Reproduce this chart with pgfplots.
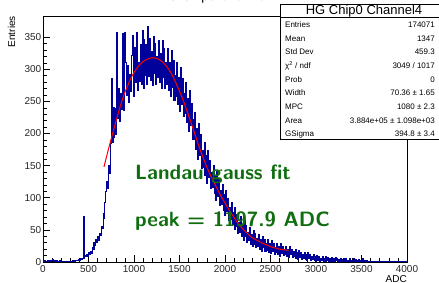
\documentclass[border=0pt]{standalone}
\usepackage{pgfplots}
\pgfplotsset{compat=1.18}
\usepackage{fontspec}
\setmainfont{Liberation Sans}
\definecolor{histblue}{RGB}{0,0,155}
\definecolor{fitred}{RGB}{255,0,0}
\definecolor{txtgreen}{RGB}{16,110,16}
\newcommand{\statfont}{\fontsize{8bp}{10bp}\selectfont}
\newcommand{\statrow}[3]{%
  \node[anchor=mid west,inner sep=0pt,font=\statfont] at (242bp,#1) {#2};
  \node[anchor=mid east,inner sep=0pt,font=\statfont] at (392bp,#1) {#3};}
\begin{document}
\begin{tikzpicture}
\begin{axis}[
 width=364bp, height=246bp, scale only axis,
 xmin=0, xmax=4000, ymin=0, ymax=383,
 axis line style={line width=0.8bp},
 tick align=inside, tick pos=left,
 xtick={0,500,...,4000}, ytick={0,50,...,350},
 minor x tick num=4, minor y tick num=4,
 major tick length=7bp, minor tick length=3.5bp,
 every tick/.style={black, line width=0.6bp},
 tick label style={font=\fontsize{10bp}{12bp}\selectfont, inner sep=0pt, text=black!85},
 /pgf/number format/assume math mode=true,
 /pgf/number format/1000 sep={},
 xticklabel style={anchor=base, yshift=-10bp},
 yticklabel style={anchor=east, xshift=-1.5bp},
]
\addplot[histblue, line width=1.1bp, const plot] coordinates {
(0,45) (10,1) (20,2) (30,1) (40,0) (50,2) (60,1) (70,3) (80,1) (90,2) (100,4) (110,2) (120,1) (130,2) (140,1) (150,2) (160,0) (170,1) (180,2) (190,1) (200,0) (210,1) (220,1) (230,0) (240,1) (250,1) (260,0) (270,1) (280,1) (290,0) (300,1) (310,1) (320,2) (330,1) (340,2) (350,1) (360,3) (370,2) (380,3) (390,4) (400,3) (410,5) (420,4) (430,6) (440,5) (450,70)
(460,10) (470,8) (480,12) (490,9) (500,14) (510,12) (520,17) (530,14) (540,22) (550,19) (560,30) (570,25) (580,35) (590,30) (600,40) (610,34) (620,45) (630,42) (640,55) (650,52) (660,68) (670,75) (680,92) (690,110) (700,125) (710,115) (720,150) (730,138) (740,185) (750,285)
(760,186) (770,241) (780,194) (790,239) (800,198) (810,358) (820,224) (830,270) (840,219) (850,262) (860,237) (870,356) (880,236) (890,283) (900,358) (910,311) (920,259) (930,306) (940,249) (950,292) (960,265) (970,322) (980,352) (990,308) (1000,258) (1010,334) (1020,279) (1030,358) (1040,267) (1050,311) (1060,281) (1070,339) (1080,276) (1090,360) (1100,270) (1110,347) (1120,291) (1130,338) (1140,277) (1150,366) (1160,289) (1170,348) (1180,282) (1190,328) (1200,275) (1210,351) (1220,294) (1230,340) (1240,277) (1250,320) (1260,288) (1270,344) (1280,279) (1290,324) (1300,270) (1310,345) (1320,287) (1330,332) (1340,270) (1350,310) (1360,277) (1370,333) (1380,267) (1390,311) (1400,257) (1410,329) (1420,271) (1430,313) (1440,252) (1450,290) (1460,258) (1470,311) (1480,246) (1490,287) (1500,234) (1510,303) (1520,246) (1530,286) (1540,226) (1550,262) (1560,231) (1570,279) (1580,218) (1590,255) (1600,204) (1610,267) (1620,212) (1630,247) (1640,191) (1650,221) (1660,191) (1670,233) (1680,175) (1690,207) (1700,160) (1710,216) (1720,166) (1730,198) (1740,145) (1750,174) (1760,147) (1770,186) (1780,135) (1790,165) (1800,123) (1810,174) (1820,131) (1830,158) (1840,114) (1850,139) (1860,116) (1870,150) (1880,106) (1890,133) (1900,96) (1910,141) (1920,102) (1930,128) (1940,88) (1950,111) (1960,89) (1970,121) (1980,80) (1990,105)
(2000,72) (2010,111) (2020,78) (2030,99) (2040,65) (2050,84) (2060,66) (2070,92) (2080,58) (2090,77) (2100,50) (2110,84) (2120,55) (2130,74) (2140,45) (2150,61) (2160,46) (2170,70) (2180,40) (2190,58) (2200,34) (2210,64) (2220,40) (2230,56) (2240,31) (2250,46) (2260,33) (2270,53) (2280,28) (2290,43) (2300,24) (2310,49) (2320,28) (2330,44) (2340,22) (2350,36) (2360,24) (2370,42) (2380,20) (2390,35) (2400,17) (2410,40) (2420,22) (2430,35) (2440,17) (2450,28) (2460,18) (2470,35) (2480,15) (2490,28) (2500,13) (2510,33) (2520,17) (2530,29) (2540,12) (2550,23) (2560,15) (2570,29) (2580,12) (2590,24) (2600,9) (2610,29) (2620,13) (2630,24) (2640,10) (2650,19) (2660,12) (2670,24) (2680,9) (2690,19) (2700,7) (2710,24) (2720,11) (2730,20) (2740,7) (2750,16) (2760,8) (2770,20) (2780,6) (2790,15) (2800,4) (2810,18) (2820,7) (2830,15) (2840,4) (2850,11) (2860,6) (2870,15) (2880,4) (2890,11) (2900,2) (2910,14) (2920,5) (2930,11) (2940,2) (2950,8) (2960,4) (2970,12) (2980,2) (2990,8)
(3000,1) (3010,10) (3020,3) (3030,8) (3040,1) (3050,6) (3060,2) (3070,8) (3080,1) (3090,6) (3100,0) (3110,8) (3120,2) (3130,7) (3140,0) (3150,5) (3160,1) (3170,7) (3180,0) (3190,5) (3200,0) (3210,7) (3220,2) (3230,5) (3240,0) (3250,4) (3260,1) (3270,6) (3280,0) (3290,4) (3300,0) (3310,6) (3320,1) (3330,5) (3340,0) (3350,3) (3360,1) (3370,5) (3380,0) (3390,3) (3400,0) (3410,5) (3420,1) (3430,4) (3440,0) (3450,2) (3460,1) (3470,4) (3480,0) (3490,3) (3500,0) (3510,5) (3520,1) (3530,2) (3540,0) (3550,2) (3560,0) (3570,1) (3580,0) (3590,1) (3600,0) (4000,0)
};
\addplot[fitred, line width=1bp, smooth] coordinates {
(670,148) (700,165) (750,192) (800,218) (850,243) (900,264) (950,281) (1000,295) (1050,305) (1100,312) (1150,316) (1200,318) (1250,317) (1300,313) (1350,306) (1400,296) (1450,282) (1500,266) (1550,248) (1600,228) (1650,207) (1700,186) (1750,166) (1800,148) (1850,132) (1900,118) (1950,104) (2000,92) (2050,80) (2100,69) (2150,59) (2200,51) (2250,44) (2300,38) (2350,34) (2400,30) (2450,27) (2500,24) (2550,22) (2600,20) (2650,19) (2700,18)
};
\end{axis}
% axis titles
\node[rotate=90, anchor=base east, inner sep=0pt, font=\fontsize{10bp}{12bp}\selectfont] at (-28bp,246bp) {Entries};
\node[anchor=base east, inner sep=0pt, font=\fontsize{10bp}{12bp}\selectfont] at (364bp,-20bp) {ADC};
% clipped title
\node[anchor=base, inner sep=0pt, font=\fontsize{13bp}{15bp}\selectfont] at (174bp,261bp) {HG Chip0 Channel4};
% annotations
\node[anchor=base west, inner sep=0pt, text=txtgreen, font=\fontsize{20.7bp}{24bp}\selectfont\sffamily\bfseries] at (92bp,82bp) {Landau gauss fit};
\node[anchor=base west, inner sep=0pt, text=txtgreen, font=\fontsize{20.7bp}{24bp}\selectfont\sffamily\bfseries] at (92bp,36bp) {peak = 1197.9 ADC};
% stats box
\fill[white] (237bp,123bp) rectangle (402bp,258bp);
\draw[line width=0.8bp] (237bp,123bp) rectangle (402bp,258bp);
\draw[line width=0.6bp] (237bp,244.5bp) -- (402bp,244.5bp);
\node[inner sep=0pt, font=\fontsize{13bp}{15bp}\selectfont] at (321bp,251bp) {HG Chip0 Channel4};
\statrow{237bp}{Entries}{174071}
\statrow{223.4bp}{Mean}{1347}
\statrow{209.7bp}{Std Dev}{459.3}
\statrow{196.1bp}{χ\textsuperscript{2} / ndf}{3049 / 1017}
\statrow{182.5bp}{Prob}{0}
\statrow{168.9bp}{Width}{70.36 ± 1.65}
\statrow{155.2bp}{MPC}{1080 ± 2.3}
\statrow{141.6bp}{Area}{3.884e+05 ± 1.098e+03}
\statrow{128bp}{GSigma}{394.8 ± 3.4}
\pgfresetboundingbox
\useasboundingbox (-43bp,-21bp) rectangle (396bp,262bp);
\end{tikzpicture}
\end{document}
